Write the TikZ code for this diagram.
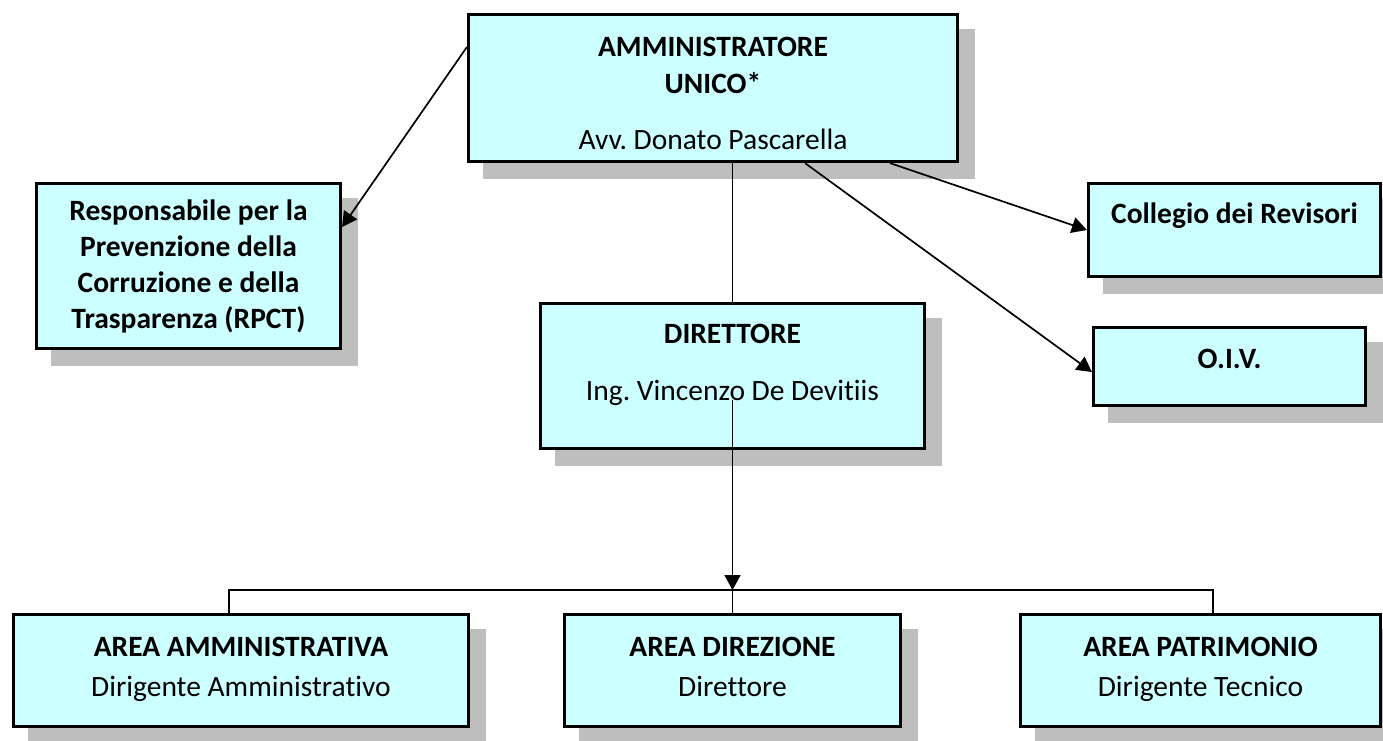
\documentclass[tikz,border=0pt]{standalone}
\usepackage{fontspec}
\setmainfont{Carlito}[RawFeature={-liga;-clig;-calt;-dlig}]
\usetikzlibrary{arrows.meta}
\definecolor{boxcyan}{RGB}{204,255,255}
\definecolor{shadowgray}{RGB}{190,190,190}
\tikzset{
  ente/.style={draw=black,line width=3.2pt,fill=boxcyan,align=center,inner sep=0pt,
    preaction={draw=shadowgray,fill=shadowgray,line width=3.2pt,transform canvas={xshift=16pt,yshift=-16pt}}},
  link/.style={line width=1.7pt},
  freccia/.style={link,-{Triangle[length=15pt,width=16pt]}}
}

\begin{document}
\begin{tikzpicture}[x=1pt,y=-1pt,font=\fontsize{29.5}{37}\selectfont\frenchspacing]
      \useasboundingbox (0,0) rectangle (1383,740);
      %caselle
      \node[ente,minimum width=489pt,minimum height=147pt,text height=122pt,text depth=0pt] (au) at (713,88) {\textbf{AMMINISTRATORE}\\\textbf{UNICO*}\\[19pt]Avv. Donato Pascarella};
      \node[ente,minimum width=304pt,minimum height=165pt,font=\fontsize{29.5}{36}\selectfont\bfseries] (rpct) at (188.5,266) {Responsabile per la\\Prevenzione della\\Corruzione e della\\Trasparenza (RPCT)};
      \node[ente,minimum width=292pt,minimum height=93pt,text depth=34pt] (coll) at (1234.5,230) {\textbf{Collegio dei Revisori}};
      \node[ente,minimum width=272pt,minimum height=78pt,text depth=16pt] (oiv) at (1229.5,366.5) {\textbf{O.I.V.}};
      \node[ente,minimum width=384pt,minimum height=145pt,text depth=27pt] (dir) at (732.5,376) {\textbf{DIRETTORE}\\[20pt]Ing. Vincenzo De Devitiis};
      \node[ente,minimum width=455pt,minimum height=112pt,text depth=8pt] (aa) at (241,670.5) {\textbf{AREA AMMINISTRATIVA}\\[3pt]Dirigente Amministrativo};
      \node[ente,minimum width=336pt,minimum height=112pt,text depth=8pt] (ad) at (732.5,670.5) {\textbf{AREA DIREZIONE}\\[3pt]Direttore};
      \node[ente,minimum width=360pt,minimum height=112pt,text depth=8pt] (ap) at (1200.5,670.5) {\textbf{AREA PATRIMONIO}\\[3pt]Dirigente Tecnico};
      %collegamenti
      \coordinate (busL) at (229,590); \coordinate (busR) at (1213,590);
      \coordinate (busC) at (dir.south |- busL);
      \draw[freccia] ([yshift=41pt]au.west) -- ([yshift=39pt]rpct.east);
      \draw[freccia] ([xshift=177pt]au.south) -- (coll.west);
      \draw[freccia] ([xshift=92pt]au.south) -- ([yshift=-5.5pt]oiv.west);
      \draw[link] (au.south -| dir.north) -- (dir.north);
      \draw[freccia] ([yshift=-24pt]dir.center) -- (busC);
      \draw[link] (busC) -- (ad.north);
      \draw[link] (aa.north -| busL) -- (busL) -- (busR) -- (ap.north -| busR);
\end{tikzpicture}
\end{document}
